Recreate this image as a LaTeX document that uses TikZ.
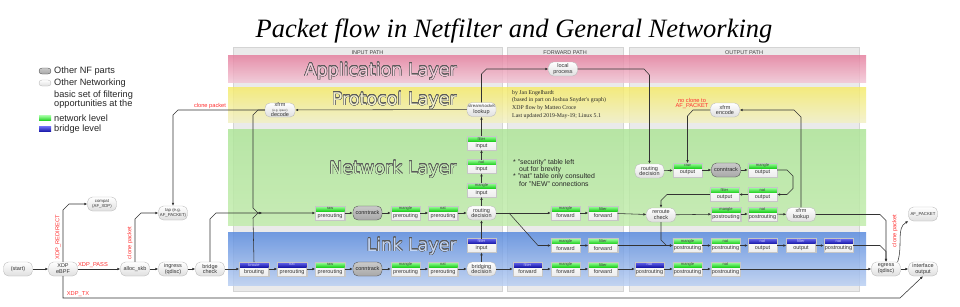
\documentclass[tikz,border=0pt]{standalone}
\usepackage{fontspec}
\setmainfont{Liberation Sans}
\newfontfamily\serifft{Liberation Serif}
\newfontfamily\layerft{DejaVu Sans}
\usepackage{contour}
\contourlength{0.38pt}
\contournumber{20}
\usetikzlibrary{arrows.meta}
\definecolor{arrowc}{HTML}{333333}
\definecolor{redlbl}{HTML}{FF3030}
\definecolor{panelc}{HTML}{EAEAEA}
\definecolor{panelb}{HTML}{D4D4D4}
\definecolor{appT}{HTML}{E57C9C}
\definecolor{appB}{HTML}{F2C4D4}
\definecolor{protT}{HTML}{F5EB66}
\definecolor{protB}{HTML}{F2F0C4}
\definecolor{netT}{HTML}{ACE596}
\definecolor{netB}{HTML}{C0ECAA}
\definecolor{linkT}{HTML}{5588DE}
\definecolor{linkB}{HTML}{B8CEF2}
\definecolor{grnT}{HTML}{A0FFA0}
\definecolor{grnB}{HTML}{20D020}
\definecolor{bluT}{HTML}{6A6AF2}
\definecolor{bluB}{HTML}{1818A8}
\definecolor{outl}{HTML}{5A5A5A}
\newcommand\fs{\fontsize{5.5}{5.9}\selectfont}
\newcommand\fh{\fontsize{4}{4}\selectfont}
\newcommand\ft{\fontsize{4.3}{4.7}\selectfont}
\newcommand\fl{\fontsize{9.2}{9.2}\selectfont}
\newcommand\fr{\fontsize{5.7}{6}\selectfont}
\newcommand\fcol{\fontsize{5.5}{5.5}\selectfont}
\newcommand\flay{\layerft\fontsize{17.5}{17.5}\selectfont}
\tikzset{
  arr/.style={draw=arrowc, line width=0.55pt, -{Latex[length=3pt,width=2.6pt]}},
  ln/.style={draw=arrowc, line width=0.55pt},
  onpill/.style={rectangle, rounded corners=5pt, draw=gray!55, line width=0.35pt,
    top color=white, bottom color=gray!25, minimum width=29pt, minimum height=14pt,
    inner sep=0pt, align=center, font=\fs, text=black!80},
  nfpill/.style={onpill, draw=gray!60!black, top color=gray!42, bottom color=gray!68, text=black!85},
  tbl/.style={rectangle, draw=gray!45, line width=0.3pt, minimum width=29pt,
    minimum height=13.5pt, inner sep=0pt, top color=white, bottom color=gray!14},
  hdrg/.style={top color=grnT, bottom color=grnB},
  hdrb/.style={top color=bluT, bottom color=bluB},
  hdrgtxt/.style={text=black!75},
  hdrbtxt/.style={text=white!80!blue},
  rlbl/.style={font=\fr, text=redlbl, inner sep=0pt},
  band/.style={opacity=0.82},
  lay/.style={anchor=base east, font=\flay, inner sep=0pt},
  panel/.style={fill=panelc, draw=panelb, line width=0.4pt},
  leg/.style={anchor=west, font=\fl, text=black!85, inner sep=0pt},
}
\newcommand\tbx[6]{%
  \node[tbl] (#1) at (#2,#3) {};
  \shade[#6] (#1.north west) rectangle ([yshift=-5pt]#1.north east);
  \draw[gray!45, line width=0.3pt] (#1.north west) rectangle (#1.south east);
  \node[font=\fh, inner sep=0pt, #6txt] at ([yshift=-2.5pt]#1.north) {#4};
  \node[font=\fs, inner sep=0pt, text=black!80] at ([yshift=4.3pt]#1.south) {#5};
}
\begin{document}
\begin{tikzpicture}[x=1pt,y=-1pt]
\useasboundingbox (0,0) rectangle (960,306);
\fill[white] (0,0) rectangle (960,306);

% title
\node[anchor=base, font=\serifft\itshape\fontsize{26.5}{30}\selectfont, inner sep=0pt] (title) at (514,37) {Packet flow in Netfilter and General Networking};

% legend
\node[nfpill, minimum width=12pt, minimum height=6pt, rounded corners=3pt] (lg1) at (45,71) {};
\node[onpill, minimum width=12pt, minimum height=6pt, rounded corners=3pt] (lg2) at (45,83) {};
\node[rectangle, minimum width=12pt, minimum height=5pt, inner sep=0pt, top color=grnT, bottom color=grnB] (lg3) at (45,118) {};
\node[rectangle, minimum width=12pt, minimum height=5pt, inner sep=0pt, top color=bluT, bottom color=bluB] (lg4) at (45,129) {};
\node[leg] (lt1) at (54,71) {Other NF parts};
\node[leg] (lt2) at (54,83) {Other Networking};
\node[leg, align=left, font=\fontsize{9.2}{6.4}\selectfont] (lt3) at (54,99.5) {basic set of filtering\\opportunities at the};
\node[leg] (lt5) at (54,118) {network level};
\node[leg] (lt6) at (54,129) {bridge level};

% panels
\path[panel] (233,47) rectangle (502,291);
\path[panel] (507,47) rectangle (623,291);
\path[panel] (629,47) rectangle (859,291);
\node[font=\fcol, text=black!75] (hin) at (367.5,52.5) {INPUT PATH};
\node[font=\fcol, text=black!75] (hfw) at (565,52.5) {FORWARD PATH};
\node[font=\fcol, text=black!75] (hout) at (744,52.5) {OUTPUT PATH};

% bands
\shade[band, top color=appT, bottom color=appB] (228,55) rectangle (866,82);
\shade[band, top color=protT, bottom color=protB] (228,87) rectangle (866,122);
\shade[band, top color=netT, bottom color=netB] (228,129) rectangle (866,225);
\shade[band, top color=linkT, bottom color=linkB] (228,232) rectangle (866,285);
\node[lay] (lapp) at (457,76) {\contour{outl}{\textcolor{appB!85!white}{Application Layer}}};
\node[lay] (lprot) at (457,105) {\contour{outl}{\textcolor{protB!85!white}{Protocol Layer}}};
\node[lay] (lnet) at (457,174) {\contour{outl}{\textcolor{netB!85!white}{Network Layer}}};
\node[lay] (llink) at (457,251) {\contour{outl}{\textcolor{linkB!85!white}{Link Layer}}};

% credits and notes
\begin{scope}[every node/.style={anchor=west, inner sep=0pt, font=\serifft\fontsize{5.8}{6}\selectfont, text=black!85}]
\node (c1) at (512,93) {by Jan Engelhardt};
\node (c2) at (512,100.6) {(based in part on Joshua Snyder's graph)};
\node (c3) at (512,108.2) {XDP flow by Matteo Croce};
\node (c4) at (512,115.8) {Last updated 2019-May-19; Linux 5.1};
\end{scope}
\begin{scope}[every node/.style={anchor=west, inner sep=0pt, font=\fontsize{6.9}{7}\selectfont, text=black!85}]
\node (n1) at (513,163) {* "security" table left};
\node (n2) at (519,170) {out for brevity};
\node (n3) at (513,177) {* "nat" table only consulted};
\node (n4) at (519,184) {for "NEW" connections};
\end{scope}

% other networking pills
\node[onpill] (start) at (18,269) {(start)};
\node[onpill] (xdp) at (63,269) {XDP\\eBPF};
\node[onpill, font=\ft] (compat) at (102,204) {compat\\(AF\_XDP)};
\node[onpill] (alloc) at (135,269) {alloc\_skb};
\node[onpill] (ingress) at (173,269) {ingress\\(qdisc)};
\node[onpill, font=\ft] (tap) at (173,213) {tap (e.g.\\AF\_PACKET)};
\node[onpill] (bridgechk) at (210,269) {bridge\\check};
\node[onpill, minimum width=30pt] (xfrmdec) at (280,110) {xfrm\\[-1.2pt]{\fontsize{3}{3}\selectfont (e.g. ipsec)}\\[-0.6pt]decode};
\node[onpill] (sockl) at (481.5,109.5) {{\ft stream/socket}\\lookup};
\node[onpill] (localproc) at (563,69) {local\\process};
\node[onpill] (routedec) at (481.5,213) {routing\\decision};
\node[onpill] (bridgedec) at (481.5,269) {bridging\\decision};
\node[onpill] (routeout) at (649.5,171) {routing\\decision};
\node[onpill] (reroute) at (661,215) {reroute\\check};
\node[onpill] (xfrmenc) at (725,110) {xfrm\\encode};
\node[onpill] (xfrmlook) at (801,214.5) {xfrm\\lookup};
\node[onpill] (egress) at (886,269) {egress\\(qdisc)};
\node[onpill] (iface) at (923,269) {interface\\output};
\node[onpill, font=\ft] (afpkt) at (923,214) {AF\_PACKET};

% conntrack
\node[nfpill] (ct1) at (367.5,213) {conntrack};
\node[nfpill] (ct2) at (367.5,269) {conntrack};
\node[nfpill] (ct3) at (726,170) {conntrack};

% network layer tables
\tbx{rawpre}{330}{213}{raw}{prerouting}{hdrg}
\tbx{manglepre}{405.5}{213}{mangle}{prerouting}{hdrg}
\tbx{natpre}{443}{213}{nat}{prerouting}{hdrg}
\tbx{mangleinp}{481.5}{190}{mangle}{input}{hdrg}
\tbx{natinp}{481.5}{166.5}{nat}{input}{hdrg}
\tbx{filterinp}{481.5}{143}{filter}{input}{hdrg}
\tbx{mangfwd}{565.5}{213}{mangle}{forward}{hdrg}
\tbx{filtfwd}{603}{213}{filter}{forward}{hdrg}
\tbx{rawout}{687.5}{170}{raw}{output}{hdrg}
\tbx{mangout}{762.5}{170}{mangle}{output}{hdrg}
\tbx{natout}{762.5}{194.5}{nat}{output}{hdrg}
\tbx{filtout}{724.5}{194.5}{filter}{output}{hdrg}
\tbx{mangpost}{726}{214}{mangle}{postrouting}{hdrg}
\tbx{natpost}{762.5}{214}{nat}{postrouting}{hdrg}

% link layer middle row
\tbx{filtinpB}{481.5}{245.5}{filter}{input}{hdrb}
\tbx{mangfwd2}{565.5}{245.5}{mangle}{forward}{hdrg}
\tbx{filtfwd2}{603}{245.5}{filter}{forward}{hdrg}
\tbx{mangpost2}{687.5}{245.5}{mangle}{postrouting}{hdrg}
\tbx{natpost2}{725.5}{245.5}{nat}{postrouting}{hdrg}
\tbx{natoutB}{762.5}{245.5}{nat}{output}{hdrb}
\tbx{filtoutB}{801}{245.5}{filter}{output}{hdrb}
\tbx{natpostB}{838.5}{245.5}{nat}{postrouting}{hdrb}

% link layer bottom row
\tbx{broute}{254}{269}{broute}{brouting}{hdrb}
\tbx{natpreB}{292}{269}{nat}{prerouting}{hdrb}
\tbx{rawpre2}{330}{269}{raw}{prerouting}{hdrg}
\tbx{manglepre2}{405.5}{269}{mangle}{prerouting}{hdrg}
\tbx{natpre2}{443}{269}{nat}{prerouting}{hdrg}
\tbx{filtfwdB}{527.5}{269}{filter}{forward}{hdrb}
\tbx{mangfwd3}{565.5}{269}{mangle}{forward}{hdrg}
\tbx{filtfwd3}{603}{269}{filter}{forward}{hdrg}
\tbx{natpostB2}{649.5}{269}{nat}{postrouting}{hdrb}
\tbx{mangpost3}{687.5}{269}{mangle}{postrouting}{hdrg}
\tbx{natpost3}{725.5}{269}{nat}{postrouting}{hdrg}

% ---- connectors ----
\draw[arr] (start) -- (xdp);
\draw[arr] (xdp) -- (alloc);
\draw[arr] (xdp.north) -- (63,210) -- (69,204) -- (compat.west);
\draw[arr] (xdp.south) -- (63,298) -- (900,298) -- (iface.south);
\draw[arr] (alloc.north) -- (135,219) -- (141,213) -- (tap.west);
\draw[arr] (alloc) -- (ingress);
\draw[arr] (ingress) -- (bridgechk);
\draw[arr] (bridgechk.north) -- (210,219) -- (216,213) -- (rawpre.west);
\draw[arr] (bridgechk) -- (broute);
\draw[arr] (xfrmdec.west) -- (178,110) -- (173,115) -- (tap.north);
\draw[arr] (xfrmdec.west) -- (258,110) -- (253,115) -- (253,208) -- (258,213) -- (262,213);
\draw[arr] (broute.north) -- (253,218) -- (258,213) -- (262,213);
\draw[arr] (rawpre) -- (ct1);
\draw[arr] (ct1) -- (manglepre);
\draw[arr] (manglepre) -- (natpre);
\draw[arr] (natpre) -- (routedec);
\draw[arr] (routedec) -- (mangleinp);
\draw[arr] (mangleinp) -- (natinp);
\draw[arr] (natinp) -- (filterinp);
\draw[arr] (filterinp) -- (sockl);
\draw[arr] (sockl) -- (xfrmdec);
\draw[arr] (sockl.north) -- (481.5,74) -- (486.5,69) -- (localproc.west);
\draw[arr] (localproc.east) -- (644,69) -- (649.5,75) -- (routeout.north);
\draw[arr] (routeout) -- (rawout);
\draw[arr] (rawout) -- (ct3);
\draw[arr] (ct3) -- (mangout);
\draw[arr] (mangout.east) -- (787,170) -- (793,176) -- (793,188.5) -- (787,194.5) -- (natout.east);
\draw[arr] (natout) -- (filtout);
\draw[arr] (filtout.west) -- (667,194.5) -- (661,200.5) -- (reroute.north);
\draw[arr] (routedec) -- (mangfwd);
\draw[arr] (mangfwd) -- (filtfwd);
\draw[arr] (filtfwd) -- (reroute);
\draw[arr] (509,213) -- (538,245.5) -- (mangfwd2.west);
\draw[arr] (reroute) -- (mangpost);
\draw[arr] (mangpost) -- (natpost);
\draw[arr] (natpost) -- (xfrmlook);
\draw[arr] (xfrmlook.north) -- (801,117) -- (794,110) -- (xfrmenc.east);
\draw[arr] (xfrmenc.west) -- (693,110) -- (687.5,116) -- (rawout.north);
\draw[arr] (xfrmlook.east) -- (880,214.5) -- (886,220.5) -- (egress.north);
\draw[arr] (reroute.south) -- (661,240) -- (666.5,245.5) -- (mangpost2.west);
\draw[arr] (mangfwd2) -- (filtfwd2);
\draw[arr] (filtfwd2) -- (mangpost2);
\draw[arr] (mangpost2) -- (natpost2);
\draw[arr] (natpost2) -- (natoutB);
\draw[arr] (natoutB) -- (filtoutB);
\draw[arr] (filtoutB) -- (natpostB);
\draw[arr] (natpostB.east) -- (880,245.5) -- (886,251.5) -- (egress.north);
\draw[arr] (bridgedec) -- (filtinpB);
\draw[arr] (filtinpB) -- (routedec);
\draw[arr] (broute) -- (natpreB);
\draw[arr] (natpreB) -- (rawpre2);
\draw[arr] (rawpre2) -- (ct2);
\draw[arr] (ct2) -- (manglepre2);
\draw[arr] (manglepre2) -- (natpre2);
\draw[arr] (natpre2) -- (bridgedec);
\draw[arr] (bridgedec) -- (filtfwdB);
\draw[arr] (filtfwdB) -- (mangfwd3);
\draw[arr] (mangfwd3) -- (filtfwd3);
\draw[arr] (filtfwd3) -- (natpostB2);
\draw[arr] (natpostB2) -- (mangpost3);
\draw[arr] (mangpost3) -- (natpost3);
\draw[arr] (natpost3) -- (egress);
\draw[arr] (egress) -- (iface);
\draw[arr] ([xshift=-3pt]egress.north east) .. controls (903,245) and (896,228) .. (afpkt.south west);

% red labels
\node[rlbl, rotate=90] (lredir) at (58,237) {XDP\_REDIRECT};
\node[rlbl] (lpass) at (93,265) {XDP\_PASS};
\node[rlbl] (ltx) at (78,294) {XDP\_TX};
\node[rlbl, rotate=90] (lclone1) at (130,243) {clone packet};
\node[rlbl] (lclone2) at (210,106) {clone packet};
\node[rlbl, align=center, font=\fontsize{5.7}{5.9}\selectfont] (lnoclone) at (692,103.5) {no clone to\\AF\_PACKET};
\node[rlbl, rotate=90] (lclone3) at (895,231) {clone packet};
\end{tikzpicture}
\end{document}
